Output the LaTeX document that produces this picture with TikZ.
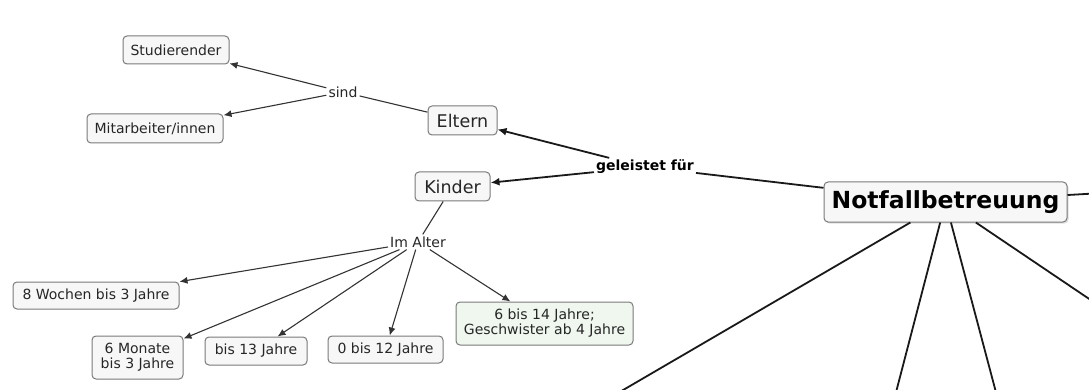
\documentclass[tikz,border=0pt]{standalone}
\usepackage{fontspec}
\setmainfont{DejaVu Sans}
\usetikzlibrary{arrows.meta,shadows}
\definecolor{boxborder}{HTML}{7A7A7A}
\definecolor{boxfill}{HTML}{F6F7F6}
\definecolor{linegray}{HTML}{333333}
\tikzset{
  box/.style={draw=boxborder, line width=1pt, fill=boxfill, rounded corners=4pt,
    inner sep=1pt, align=center, text=black!85, font=\fontsize{14}{15}\selectfont},
  bigbox/.style={box, font=\fontsize{17.5}{19}\selectfont},
  mainbox/.style={box, draw=boxborder, drop shadow={shadow xshift=1.5pt, shadow yshift=-1.5pt, fill=black!25},
    font=\bfseries\fontsize{23.5}{25}\selectfont, text=black},
  lbl/.style={inner sep=2pt, font=\fontsize{14}{15}\selectfont, text=black!85},
  lblb/.style={inner sep=2pt, font=\bfseries\fontsize{14}{15}\selectfont, text=black},
  arr/.style={draw=linegray, line width=1.1pt, -{Latex[length=8pt,width=7pt]}},
  arrb/.style={draw=black!90, line width=1.8pt, -{Latex[length=9pt,width=8pt]}},
  ln/.style={draw=linegray, line width=1.1pt},
  lnb/.style={draw=black!90, line width=1.8pt}
}
\begin{document}
\begin{tikzpicture}[x=1pt,y=-1pt]
\useasboundingbox (0,0) rectangle (1089,390);
\clip (0,0) rectangle (1089,390);
\fill[white] (0,0) rectangle (1089,390);

% concepts
\node[box, minimum width=106pt, minimum height=28pt] (stud) at (176,50) {Studierender};
\node[box, minimum width=136pt, minimum height=29pt] (mit) at (155,128.5) {Mitarbeiter/innen};
\node[bigbox, minimum width=69pt, minimum height=29pt] (eltern) at (462.5,120.5) {Eltern};
\node[bigbox, minimum width=75pt, minimum height=29pt] (kinder) at (452.5,186.5) {Kinder};
\node[mainbox, minimum width=243pt, minimum height=40pt] (notf) at (945.5,202) {Notfallbetreuung};
\node[box, minimum width=166pt, minimum height=27pt] (w8) at (96,295.5) {8 Wochen bis 3 Jahre};
\node[box, minimum width=91pt, minimum height=43pt] (m6) at (137.5,357.5) {6 Monate\\bis 3 Jahre};
\node[box, minimum width=102pt, minimum height=28pt] (b13) at (256,351) {bis 13 Jahre};
\node[box, minimum width=115pt, minimum height=27pt] (b012) at (385.5,349.5) {0 bis 12 Jahre};
\node[box, minimum width=177pt, minimum height=43pt, fill=green!3!boxfill] (b614) at (544.5,323.5) {6 bis 14 Jahre;\\Geschwister ab 4 Jahre};

% linking phrases
\node[lbl] (sind) at (343,92) {sind};
\node[lblb] (gel) at (645,167) {geleistet für};
\node[lbl] (alter) at (418,242) {Im Alter};

% off-frame ends
\coordinate (r1) at (1120,192);
\coordinate (c1) at (600,403.5);
\coordinate (c2) at (894,400);
\coordinate (c3) at (998,400);
\coordinate (c4) at (1110,313);

% connectors
\draw[ln] (eltern) -- (sind);
\draw[arr] (sind) -- (stud);
\draw[arr] (sind) -- (mit);
\draw[lnb] (notf) -- (gel);
\draw[arrb] (gel) -- (eltern);
\draw[arrb] (gel) -- (kinder);
\draw[ln] (kinder) -- (alter);
\draw[arr] (alter) -- (w8);
\draw[arr] (alter) -- (m6);
\draw[arr] (alter) -- (b13);
\draw[arr] (alter) -- (b012);
\draw[arr] (alter) -- (b614);
\draw[lnb] (notf) -- (r1);
\draw[lnb] (notf) -- (c1);
\draw[lnb] (notf) -- (c2);
\draw[lnb] (notf) -- (c3);
\draw[lnb] (notf) -- (c4);
\end{tikzpicture}
\end{document}
